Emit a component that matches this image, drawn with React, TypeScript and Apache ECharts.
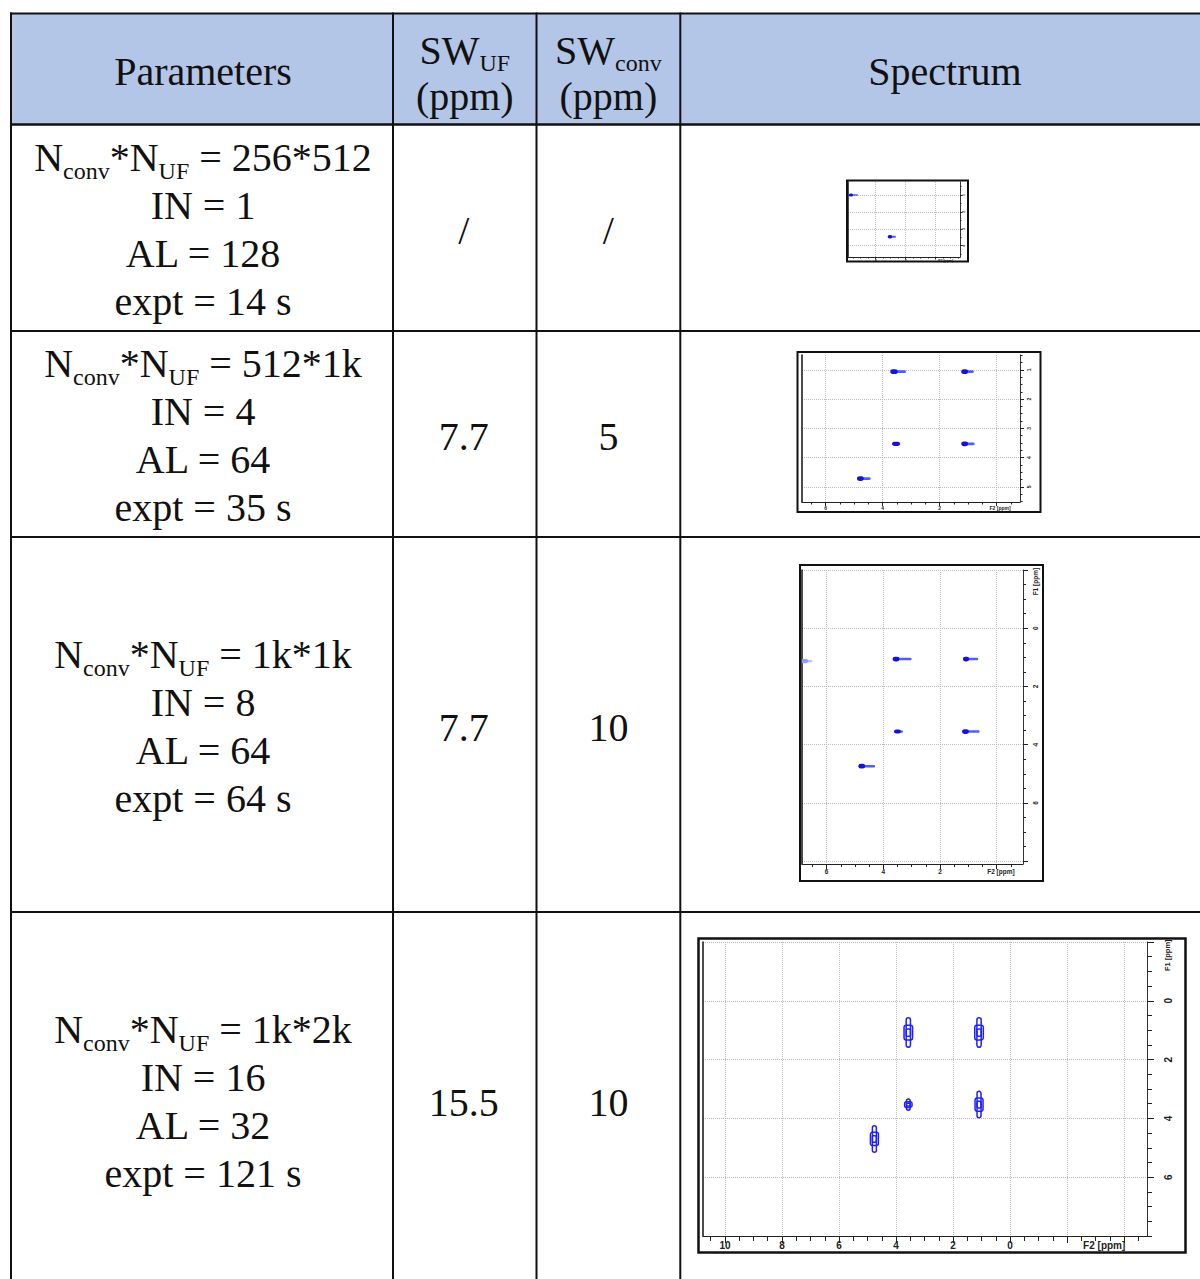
import React, { useEffect, useRef } from "react";
import * as echarts from "echarts";

// ---------- table contents ----------
const headerParameters = "Parameters";
const headerSpectrum = "Spectrum";
const matrixSizes = ["256*512", "512*1k", "1k*1k", "1k*2k"];
const inValues = [1, 4, 8, 16];
const alValues = [128, 64, 64, 32];
const exptSeconds = [14, 35, 64, 121];
const swUFValues = ["/", "7.7", "7.7", "15.5"];
const swConvValues = ["/", "5", "10", "10"];

// ---------- spectra ----------
// smeared cross peaks: [F2 head, F1, F2 tail end, head half-width F2, half-height F1] (ppm)
const peaks1 = [
  [5.65, 1.0, 5.18, 0.14, 0.09],
  [3.05, 3.47, 2.65, 0.15, 0.1],
];
const peaks2 = [
  [3.6, 1.06, 3.18, 0.13, 0.08],
  [1.12, 1.06, 0.8, 0.12, 0.08],
  [3.53, 3.53, 3.45, 0.14, 0.07],
  [1.12, 3.53, 0.77, 0.12, 0.08],
  [4.78, 4.72, 4.42, 0.12, 0.08],
];
const peaks3 = [
  [3.55, 1.06, 3.0, 0.12, 0.08],
  [1.08, 1.06, 0.65, 0.11, 0.08],
  [3.5, 3.55, 3.3, 0.12, 0.07],
  [1.1, 3.55, 0.6, 0.12, 0.08],
  [4.76, 4.74, 4.29, 0.12, 0.08],
];
const foldedPeaks3 = [[6.8, 1.13, 6.5, 0.15, 0.07]];
// contour peaks: [F2, F1, half-width F2, half-height F1] (ppm)
const peaks4 = [
  [3.57, 1.08, 0.15, 0.5],
  [1.09, 1.08, 0.15, 0.5],
  [3.57, 3.53, 0.13, 0.19],
  [1.09, 3.53, 0.14, 0.45],
  [4.76, 4.7, 0.14, 0.45],
];

// axis extents, ticks and labels (ppm)
const spec1XRange = [-1.62, 5.85];
const spec1YRange = [0.23, 4.67];
const spec1XTicks = [4, 2, 0];
const spec1XLabels = [4, 2];
const spec1YTicks = [1, 2, 3, 4];
const spec1YLabels = [1, 2, 3, 4];

const spec2XRange = [-0.82, 6.83];
const spec2YRange = [0.49, 5.52];
const spec2XTicks = [6, 4, 2, 0];
const spec2XLabels = [6, 4, 2];
const spec2YTicks = [1, 2, 3, 4, 5];
const spec2YLabels = [1, 2, 3, 4, 5];

const spec3XRange = [-0.93, 6.87];
const spec3YRange = [-2, 8.1];
const spec3XTicks = [6, 4, 2, 0];
const spec3XLabels = [6, 4, 2];
const spec3YTicks = [-2, 0, 2, 4, 6, 8];
const spec3YLabels = [0, 2, 4, 6];

const spec4XRange = [-4.8, 10.77];
const spec4YRange = [-2, 8];
const spec4XTicks = [10, 8, 6, 4, 2, 0, -2, -4];
const spec4XLabels = [10, 8, 6, 4, 2, 0];
const spec4YTicks = [-2, 0, 2, 4, 6];
const spec4YLabels = [0, 2, 4, 6];

const SERIF = "'Liberation Serif', 'Times New Roman', serif";
const SANS = "'Liberation Sans', Arial, sans-serif";
const INK = "#111";
const HEADER_FILL = "#b4c6e7";

const X_COLS = [11, 393, 536.5, 680.3];
const RIGHT_EDGE = 1201;
const TOP = 13.5;
const HEADER_BOTTOM = 124.5;
const ROW_LINES = [331, 537, 912];
const PAGE_H = 1279;
const ROW_CENTERS = [229.5, 435.5, 726.5, 1101.5];
const LINE_STEP = 47.7;

const FS = 40;
const SUB = 24;
const rich = {
  m: { fontSize: FS, fontFamily: SERIF, lineHeight: 48, fill: INK, color: INK },
  s: { fontSize: SUB, fontFamily: SERIF, lineHeight: 20, padding: [26, 0, 0, 0], fill: INK, color: INK },
};

function textEl(x: number, y: number, text: string, extra: any = {}) {
  return {
    type: "text",
    x,
    y,
    z: 20,
    style: {
      text,
      fill: INK,
      fontSize: FS,
      fontFamily: SERIF,
      align: "center",
      textAlign: "center",
      verticalAlign: "middle",
      textVerticalAlign: "middle",
      rich,
      ...extra,
    },
  };
}

function lineEl(x1: number, y1: number, x2: number, y2: number, w = 2) {
  return {
    type: "line",
    z: 15,
    shape: { x1, y1, x2, y2 },
    style: { stroke: INK, lineWidth: w },
  };
}

function minorValues(min: number, max: number, step: number) {
  const out: number[] = [];
  for (let v = Math.ceil(min / step) * step; v <= max + 1e-9; v += step) out.push(+v.toFixed(4));
  return out;
}

type Spec = {
  plot: number[];
  frame: number[];
  xRange: number[];
  yRange: number[];
  xTicks: number[];
  xLabels: number[];
  f2At: number;
  yTicks: number[];
  yLabels: number[];
  f1At: number | null;
  f1Font: number;
  xMinor: number;
  yMinor: number;
  font: number;
  xMargin: number;
  yMargin: number;
  major: number;
  minor: number;
  frameWidth: number;
  kind: "smear" | "contour";
  data: number[][];
  folded?: number[][];
};

const spectra: Spec[] = [
  {
    plot: [848, 182, 112, 75], frame: [847, 180.5, 121, 81],
    xRange: spec1XRange, yRange: spec1YRange,
    xTicks: spec1XTicks, xLabels: spec1XLabels, f2At: -0.67,
    yTicks: spec1YTicks, yLabels: spec1YLabels, f1At: null, f1Font: 3.5,
    xMinor: 0.5, yMinor: 0.5, font: 3.5, xMargin: 1.5, yMargin: 2, major: 2.5, minor: 1.5,
    frameWidth: 2, kind: "smear", data: peaks1,
  },
  {
    plot: [802, 355, 218, 147], frame: [797.5, 352, 243, 160],
    xRange: spec2XRange, yRange: spec2YRange,
    xTicks: spec2XTicks, xLabels: spec2XLabels, f2At: -0.12,
    yTicks: spec2YTicks, yLabels: spec2YLabels, f1At: null, f1Font: 5,
    xMinor: 0.5, yMinor: 0.25, font: 5, xMargin: 3, yMargin: 6, major: 4, minor: 2.5,
    frameWidth: 2, kind: "smear", data: peaks2,
  },
  {
    plot: [802, 570, 221, 294], frame: [800, 565, 243, 316],
    xRange: spec3XRange, yRange: spec3YRange,
    xTicks: spec3XTicks, xLabels: spec3XLabels, f2At: -0.15,
    yTicks: spec3YTicks, yLabels: spec3YLabels, f1At: -1.6, f1Font: 6.5,
    xMinor: 0.5, yMinor: 0.5, font: 6.5, xMargin: 4, yMargin: 9, major: 5, minor: 3,
    frameWidth: 2, kind: "smear", data: peaks3, folded: foldedPeaks3,
  },
  {
    plot: [703, 942, 444, 294], frame: [698.5, 938.5, 487, 314],
    xRange: spec4XRange, yRange: spec4YRange,
    xTicks: spec4XTicks, xLabels: spec4XLabels, f2At: -3.3,
    yTicks: spec4YTicks, yLabels: spec4YLabels, f1At: -1.55, f1Font: 7.5,
    xMinor: 0.5, yMinor: 0.5, font: 10, xMargin: 4, yMargin: 16, major: 7, minor: 5,
    frameWidth: 2.5, kind: "contour", data: peaks4,
  },
];

function close(a: number, b: number) {
  return Math.abs(a - b) < 1e-6;
}

function smearRenderer(headColor: string, tailColor: string) {
  return (_params: any, api: any) => {
    const head = api.coord([api.value(0), api.value(1)]);
    const tail = api.coord([api.value(2), api.value(1)]);
    const size = api.size([api.value(3) * 2, api.value(4) * 2]);
    const rx = size[0] / 2;
    const ry = size[1] / 2;
    const left = Math.min(head[0] - rx, tail[0]);
    const right = Math.max(head[0] + rx, tail[0]);
    const th = Math.max(ry * 1.1, 1);
    return {
      type: "group",
      children: [
        {
          type: "rect",
          shape: { x: left, y: head[1] - th / 2, width: right - left, height: th, r: th / 2 },
          style: { fill: tailColor },
        },
        {
          type: "rect",
          shape: { x: head[0] - rx, y: head[1] - ry, width: rx * 2, height: ry * 2, r: ry },
          style: { fill: headColor },
        },
      ],
    };
  };
}

function contourRenderer(color: string) {
  return (_params: any, api: any) => {
    const c = api.coord([api.value(0), api.value(1)]);
    const size = api.size([api.value(2) * 2, api.value(3) * 2]);
    const w = size[0] / 2;
    const h = size[1] / 2;
    const st = { fill: "none", stroke: color, lineWidth: 1.5 };
    return {
      type: "group",
      children: [
        { type: "rect", shape: { x: c[0] - w * 0.5, y: c[1] - h, width: w, height: 2 * h, r: w / 2 }, style: st },
        { type: "rect", shape: { x: c[0] - w, y: c[1] - h * 0.5, width: 2 * w, height: h, r: Math.min(w, h) * 0.5 }, style: st },
        { type: "rect", shape: { x: c[0] - w * 0.5, y: c[1] - h * 0.25, width: w, height: h * 0.5, r: Math.min(w, h) * 0.3 }, style: st },
      ],
    };
  };
}

function buildOption() {
  const graphic: any[] = [];

  // header band
  graphic.push({
    type: "rect",
    z: 1,
    shape: { x: X_COLS[0], y: TOP, width: RIGHT_EDGE - X_COLS[0], height: HEADER_BOTTOM - TOP },
    style: { fill: HEADER_FILL },
  });

  // ruling of the table
  graphic.push(lineEl(X_COLS[0] - 1, TOP, RIGHT_EDGE, TOP, 2.2));
  graphic.push(lineEl(X_COLS[0] - 1, HEADER_BOTTOM, RIGHT_EDGE, HEADER_BOTTOM, 2.6));
  ROW_LINES.forEach((y) => graphic.push(lineEl(X_COLS[0] - 1, y, RIGHT_EDGE, y, 2)));
  X_COLS.forEach((x) => graphic.push(lineEl(x, TOP - 1, x, PAGE_H + 2, 2)));

  // header texts
  const midParams = (X_COLS[0] + X_COLS[1]) / 2;
  const midUF = (X_COLS[1] + X_COLS[2]) / 2;
  const midConv = (X_COLS[2] + X_COLS[3]) / 2;
  const midSpec = 945;
  graphic.push(textEl(midParams + 1, 71, `{m|${headerParameters}}`));
  graphic.push(textEl(midSpec, 71, `{m|${headerSpectrum}}`));
  graphic.push(textEl(midUF, 50, "{m|SW}{s|UF}"));
  graphic.push(textEl(midUF, 96, "{m|(ppm)}"));
  graphic.push(textEl(midConv, 50, "{m|SW}{s|conv}"));
  graphic.push(textEl(midConv, 96, "{m|(ppm)}"));

  // body rows
  matrixSizes.forEach((size, i) => {
    const cy = ROW_CENTERS[i];
    const lines = [
      `{m|N}{s|conv}{m|*N}{s|UF}{m| = ${size}}`,
      `{m|IN = ${inValues[i]}}`,
      `{m|AL = ${alValues[i]}}`,
      `{m|expt = ${exptSeconds[i]} s}`,
    ];
    lines.forEach((t, k) => {
      graphic.push(textEl(midParams + 1, cy + (k - 1.5) * LINE_STEP, t));
    });
    graphic.push(textEl(midUF - 1, cy + 1, `{m|${swUFValues[i]}}`));
    graphic.push(textEl(midConv, cy + 1, `{m|${swConvValues[i]}}`));
  });

  const grid: any[] = [];
  const xAxis: any[] = [];
  const yAxis: any[] = [];
  const series: any[] = [];

  spectra.forEach((sp, gi) => {
    const [gl, gt, gw, gh] = sp.plot;
    grid.push({ left: gl, top: gt, width: gw, height: gh, containLabel: false });
    const [fx, fy, fw, fh] = sp.frame;
    graphic.push({
      type: "rect",
      z: 30,
      shape: { x: fx, y: fy, width: fw, height: fh },
      style: { fill: "none", stroke: INK, lineWidth: sp.frameWidth },
    });

    const labelStyle = {
      fontSize: sp.font,
      fontWeight: "bold",
      fontFamily: SANS,
      color: "#222",
    };
    const dotted = { show: true, lineStyle: { type: "dotted", color: "#bcbcbc", width: 1 } };

    const xMajorIdx = xAxis.length;
    xAxis.push({
      gridIndex: gi,
      type: "value",
      min: sp.xRange[0],
      max: sp.xRange[1],
      inverse: true,
      position: "bottom",
      axisLine: { show: true, onZero: false, lineStyle: { color: "#222", width: 1 } },
      axisTick: { show: true, customValues: sp.xTicks, length: sp.major, lineStyle: { color: "#222", width: 1 } },
      axisLabel: {
        show: true,
        customValues: [...sp.xLabels, sp.f2At],
        formatter: (v: number) => (close(v, sp.f2At) ? "F2 [ppm]" : String(v)),
        margin: sp.xMargin,
        ...labelStyle,
      },
      splitLine: dotted,
    });
    xAxis.push({
      gridIndex: gi,
      type: "value",
      min: sp.xRange[0],
      max: sp.xRange[1],
      inverse: true,
      position: "bottom",
      axisLine: { show: false, onZero: false },
      axisTick: { show: true, customValues: minorValues(sp.xRange[0], sp.xRange[1], sp.xMinor), length: sp.minor, lineStyle: { color: "#222", width: 1 } },
      axisLabel: { show: false },
      splitLine: { show: false },
    });

    const yLabelValues = sp.f1At === null ? [...sp.yLabels] : [...sp.yLabels, sp.f1At];
    const yMajorIdx = yAxis.length;
    yAxis.push({
      gridIndex: gi,
      type: "value",
      min: sp.yRange[0],
      max: sp.yRange[1],
      inverse: true,
      position: "right",
      axisLine: { show: true, onZero: false, lineStyle: { color: "#333", width: 1 } },
      axisTick: { show: true, customValues: sp.yTicks, length: sp.major, lineStyle: { color: "#222", width: 1 } },
      axisLabel: {
        show: true,
        customValues: yLabelValues,
        rotate: 90,
        formatter: (v: number) => (sp.f1At !== null && close(v, sp.f1At) ? "{t|F1 [ppm]}" : String(v)),
        rich: { t: { fontSize: sp.f1Font, fontWeight: "bold", fontFamily: SANS, color: "#222" } },
        margin: sp.yMargin,
        ...labelStyle,
      },
      splitLine: dotted,
    });
    yAxis.push({
      gridIndex: gi,
      type: "value",
      min: sp.yRange[0],
      max: sp.yRange[1],
      inverse: true,
      position: "right",
      axisLine: { show: false, onZero: false },
      axisTick: { show: true, customValues: minorValues(sp.yRange[0], sp.yRange[1], sp.yMinor), length: sp.minor, lineStyle: { color: "#222", width: 1 } },
      axisLabel: { show: false },
      splitLine: { show: false },
    });
    yAxis.push({
      gridIndex: gi,
      type: "value",
      min: sp.yRange[0],
      max: sp.yRange[1],
      inverse: true,
      position: "left",
      axisLine: { show: true, onZero: false, lineStyle: { color: "#111", width: 1.5 } },
      axisTick: { show: false },
      axisLabel: { show: false },
      splitLine: { show: false },
    });

    series.push({
      type: "custom",
      xAxisIndex: xMajorIdx,
      yAxisIndex: yMajorIdx,
      clip: true,
      silent: true,
      renderItem: sp.kind === "contour" ? contourRenderer("#1f1fff") : smearRenderer("#1414d8", "#4d5dff"),
      data: sp.data,
      z: 5,
    });
    if (sp.folded) {
      series.push({
        type: "custom",
        xAxisIndex: xMajorIdx,
        yAxisIndex: yMajorIdx,
        clip: true,
        silent: true,
        renderItem: smearRenderer("#8f9cff", "#b8c0ff"),
        data: sp.folded,
        z: 5,
      });
    }
  });

  return {
    animation: false,
    backgroundColor: "#ffffff",
    grid,
    xAxis,
    yAxis,
    series,
    graphic: { elements: graphic },
  };
}

export default function App() {
  const ref = useRef<HTMLDivElement | null>(null);
  useEffect(() => {
    if (!ref.current) return;
    const chart = echarts.init(ref.current, null, { renderer: "svg" });
    chart.setOption(buildOption() as any);
    return () => chart.dispose();
  }, []);
  return (
    <div
      ref={ref}
      style={{ position: "absolute", left: 0, top: 0, width: 1200, height: 1279, background: "#fff" }}
    />
  );
}
